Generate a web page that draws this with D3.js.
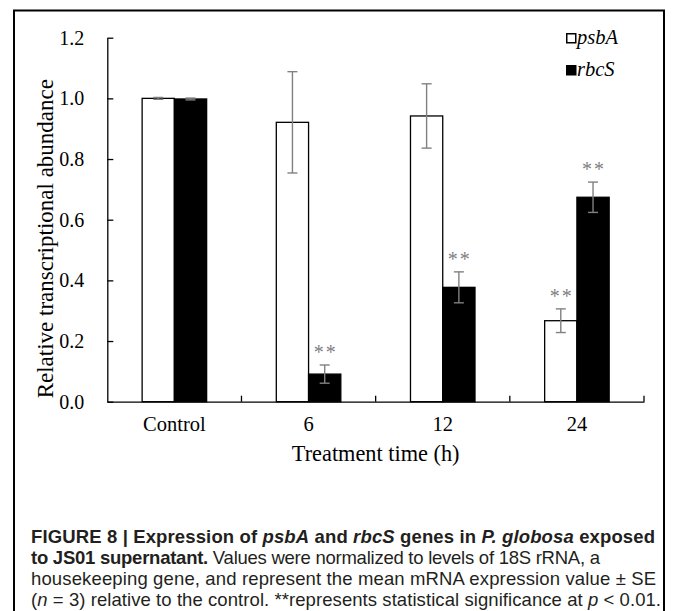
<!DOCTYPE html>
<html>
<head>
<meta charset="utf-8">
<script src="https://cdn.jsdelivr.net/npm/d3@7"></script>
<style>
  body { margin: 0; background: #fff; }
  svg { display: block; }
</style>
</head>
<body>
<div id="chart"></div>
<script>
const groups = ['Control', '6', '12', '24'];
const series = ['psbA', 'rbcS'];
const psbA = [1.0, 0.921, 0.942, 0.267];
const psbAErr = [0.003, 0.167, 0.106, 0.039];
const psbAStar = [false, false, false, true];
const rbcS = [0.998, 0.091, 0.377, 0.674];
const rbcSErr = [0.003, 0.030, 0.051, 0.050];
const rbcSStar = [false, true, true, true];
const yTicks = [0, 0.2, 0.4, 0.6, 0.8, 1.0, 1.2];

const width = 674, height = 611;
const serif = '"Liberation Serif", "Times New Roman", serif';
const sans = '"Liberation Sans", Arial, Helvetica, sans-serif';

// bars table
const rows = groups.map((g, i) => ({
  group: g,
  bars: [
    { key: 'psbA', value: psbA[i], err: psbAErr[i], star: psbAStar[i] },
    { key: 'rbcS', value: rbcS[i], err: rbcSErr[i], star: rbcSStar[i] }
  ]
}));

const svg = d3.select('#chart').append('svg')
  .attr('width', width).attr('height', height);

// frame (bottom edge is cut off in the figure)
svg.append('path')
  .attr('d', 'M14,' + (height + 5) + 'V10.5H664V' + (height + 5))
  .attr('fill', 'none').attr('stroke', '#000').attr('stroke-width', 2);

const plot = { left: 107.3, right: 644, top: 37.7, bottom: 401.7 };

const x0 = d3.scaleBand().domain(groups).range([plot.left, plot.right]);
const x1 = d3.scaleBand().domain(series).range([0, x0.bandwidth()]).paddingOuter(1.08);
const y = d3.scaleLinear().domain([0, 1.2]).range([plot.bottom, plot.top]);
const fill = d3.scaleOrdinal().domain(series).range(['#fff', '#000']);

// bars
const g = svg.selectAll('g.grp')
  .data(rows).enter().append('g')
  .attr('class', 'grp')
  .attr('transform', d => 'translate(' + x0(d.group) + ',0)');

g.selectAll('rect')
  .data(d => d.bars).enter().append('rect')
  .attr('x', d => x1(d.key))
  .attr('y', d => y(d.value))
  .attr('width', x1.bandwidth())
  .attr('height', d => y(0) - y(d.value))
  .attr('fill', d => fill(d.key))
  .attr('stroke', '#000')
  .attr('stroke-width', 1.3);

// error bars
const eb = g.selectAll('g.err')
  .data(d => d.bars).enter().append('g')
  .attr('class', 'err')
  .attr('transform', d => 'translate(' + (x1(d.key) + x1.bandwidth() / 2) + ',0)')
  .attr('stroke', '#808080').attr('stroke-width', 1.4);
eb.append('line')
  .attr('x1', 0).attr('x2', 0)
  .attr('y1', d => y(d.value - d.err)).attr('y2', d => y(d.value + d.err));
eb.append('line')
  .attr('x1', -5).attr('x2', 5)
  .attr('y1', d => y(d.value + d.err)).attr('y2', d => y(d.value + d.err));
eb.append('line')
  .attr('x1', -5).attr('x2', 5)
  .attr('y1', d => y(d.value - d.err)).attr('y2', d => y(d.value - d.err));

// significance stars
g.selectAll('text.star')
  .data(d => d.bars.filter(b => b.star)).enter().append('text')
  .attr('class', 'star')
  .attr('x', d => x1(d.key) + x1.bandwidth() / 2 + 1)
  .attr('y', d => y(d.value + d.err) - 6)
  .attr('text-anchor', 'middle')
  .attr('font-family', serif).attr('font-size', 20)
  .attr('letter-spacing', 2)
  .attr('fill', '#808080')
  .text('**');

// y axis
const yAxis = svg.append('g')
  .attr('transform', 'translate(' + plot.left + ',0)')
  .call(d3.axisLeft(y).tickValues(yTicks).tickFormat(d3.format('.1f'))
    .tickSizeInner(-6).tickSizeOuter(0).tickPadding(23));
yAxis.selectAll('path, line').attr('stroke', '#000').attr('stroke-width', 1.3);
yAxis.selectAll('text').attr('font-family', serif).attr('font-size', 20).attr('fill', '#000');

// x axis
const xAxis = svg.append('g')
  .attr('transform', 'translate(0,' + plot.bottom + ')')
  .call(d3.axisBottom(x0).tickSize(0).tickPadding(15));
xAxis.select('.domain').attr('stroke', '#000').attr('stroke-width', 1.3);
xAxis.selectAll('text').attr('font-family', serif).attr('font-size', 20.5).attr('fill', '#000');
xAxis.selectAll('line.sep')
  .data(groups).enter().append('line')
  .attr('class', 'sep')
  .attr('x1', d => x0(d) + x0.bandwidth()).attr('x2', d => x0(d) + x0.bandwidth())
  .attr('y1', 0).attr('y2', -6)
  .attr('stroke', '#000').attr('stroke-width', 1.3);

// axis titles
svg.append('text')
  .attr('transform', 'translate(53,' + ((plot.top + plot.bottom) / 2 + 19) + ') rotate(-90)')
  .attr('text-anchor', 'middle')
  .attr('font-family', serif).attr('font-size', 23)
  .text('Relative transcriptional abundance');

svg.append('text')
  .attr('x', (plot.left + plot.right) / 2).attr('y', 461)
  .attr('text-anchor', 'middle')
  .attr('font-family', serif).attr('font-size', 22.3)
  .text('Treatment time (h)');

// legend
const legend = svg.append('g').attr('transform', 'translate(566,0)');
const li = legend.selectAll('g').data(series).enter().append('g')
  .attr('transform', (d, i) => 'translate(0,' + (33 + i * 32) + ')');
li.append('rect')
  .attr('x', 0.75).attr('y', 0.75).attr('width', 9).attr('height', 9)
  .attr('fill', d => fill(d)).attr('stroke', '#000').attr('stroke-width', 1.5);
li.append('text')
  .attr('x', 11).attr('y', 11)
  .attr('font-family', serif).attr('font-style', 'italic').attr('font-size', 20.5)
  .text(d => d);

// caption
const capLines = [
  [['FIGURE 8 | Expression of ', 'b'], ['psbA', 'bi'], [' and ', 'b'], ['rbcS', 'bi'],
   [' genes in ', 'b'], ['P. globosa', 'bi'], [' exposed', 'b']],
  [['to JS01 supernatant.', 'b'], [' Values were normalized to levels of 18S rRNA, a', 'r']],
  [['housekeeping gene, and represent the mean mRNA expression value \u00b1 SE', 'r']],
  [['(', 'r'], ['n', 'i'], [' = 3) relative to the control. **represents statistical significance at ', 'r'],
   ['p', 'i'], [' < 0.01.', 'r']]
];
const capBase = [543, 564, 585, 606];
const capEnd = [655, 600, 656, 661];
const capLeft = 31;
const cap = svg.append('g').attr('font-family', sans).attr('font-size', 18.5).attr('fill', '#231f20');
capLines.forEach((line, i) => {
  const t = cap.append('text').attr('x', capLeft).attr('y', capBase[i])
    .attr('textLength', capEnd[i] - capLeft).attr('lengthAdjust', 'spacing');
  line.forEach(([s, st]) => {
    t.append('tspan')
      .attr('font-weight', st.includes('b') ? 'bold' : 'normal')
      .attr('font-style', st.includes('i') ? 'italic' : 'normal')
      .text(s);
  });
});
</script>
</body>
</html>
